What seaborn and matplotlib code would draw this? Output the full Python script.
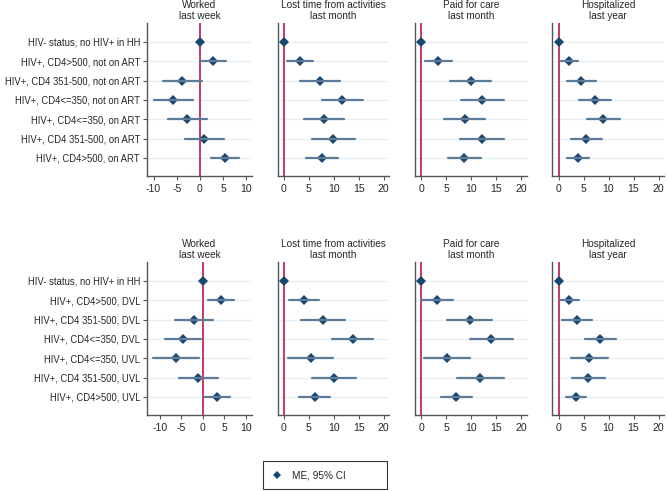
import matplotlib
matplotlib.use("Agg")
import matplotlib.pyplot as plt
from matplotlib.lines import Line2D
import seaborn as sns
import pandas as pd

sns.set_theme(style="white")
plt.rcParams['font.family'] = ['Liberation Sans', 'DejaVu Sans']
plt.rcParams['axes.unicode_minus'] = False

cats_top = ["HIV- status, no HIV+ in HH", "HIV+, CD4>500, not on ART",
            "HIV+, CD4 351-500, not on ART", "HIV+, CD4<=350, not on ART",
            "HIV+, CD4<=350, on ART", "HIV+, CD4 351-500, on ART",
            "HIV+, CD4>500, on ART"]
cats_bot = ["HIV- status, no HIV+ in HH", "HIV+, CD4>500, DVL",
            "HIV+, CD4 351-500, DVL", "HIV+, CD4<=350, DVL",
            "HIV+, CD4<=350, UVL", "HIV+, CD4 351-500, UVL",
            "HIV+, CD4>500, UVL"]
titles = ["Worked\nlast week", "Lost time from activities\nlast month",
          "Paid for care\nlast month", "Hospitalized\nlast year"]

# top row: estimates, lower CI, upper CI per outcome
top_est = [
    [0, 2.9, -3.8, -5.8, -2.7, 0.9, 5.4],
    [0, 3.3, 7.3, 11.7, 8.0, 9.9, 7.7],
    [0, 3.3, 9.9, 12.2, 8.7, 12.1, 8.6],
    [0, 2.1, 4.5, 7.2, 8.8, 5.5, 3.8],
]
top_lo = [
    [0, 0.0, -7.9, -10.0, -6.8, -3.3, 2.4],
    [0, 0.6, 3.3, 7.7, 4.0, 5.6, 4.5],
    [0, 0.7, 5.7, 8.0, 4.6, 7.7, 5.4],
    [0, 0.5, 1.7, 4.1, 5.6, 2.5, 1.7],
]
top_hi = [
    [0, 5.7, 0.4, -1.4, 1.5, 5.1, 8.5],
    [0, 5.9, 11.3, 15.9, 12.1, 14.2, 10.9],
    [0, 6.2, 14.0, 16.5, 12.8, 16.5, 12.0],
    [0, 3.9, 7.4, 10.4, 12.2, 8.6, 6.0],
]
# bottom row
bot_est = [
    [0, 4.2, -2.0, -4.5, -6.2, -1.2, 3.3],
    [0, 4.1, 7.9, 13.8, 5.4, 10.1, 6.2],
    [0, 3.1, 9.7, 14.0, 5.2, 11.8, 7.0],
    [0, 2.1, 3.7, 8.3, 6.0, 5.9, 3.5],
]
bot_lo = [
    [0, 1.2, -6.5, -8.7, -11.5, -5.6, 0.2],
    [0, 1.1, 3.5, 9.7, 0.9, 5.7, 3.1],
    [0, 0.0, 5.2, 9.8, 0.6, 7.2, 3.9],
    [0, 0.2, 0.7, 5.2, 2.4, 2.7, 1.5],
]
bot_hi = [
    [0, 7.3, 2.5, -0.4, -0.9, 3.5, 6.4],
    [0, 7.1, 12.2, 17.9, 9.9, 14.5, 9.3],
    [0, 6.3, 14.1, 18.3, 9.8, 16.5, 10.2],
    [0, 4.1, 6.7, 11.4, 9.8, 9.2, 5.5],
]

W, H = 667, 491
fig = plt.figure(figsize=(W / 100, H / 100), dpi=100)

col_x = [(147, 252), (278, 389), (415, 527), (552, 664)]
row_y = [(23, 176), (262, 415)]
xlims_row = [
    [(-11.4, 11.2), (-1.2, 21.1), (-1.2, 21.1), (-1.3, 21.1)],
    [(-13.0, 11.5), (-1.2, 21.1), (-1.2, 21.1), (-1.3, 21.1)],
]
xticks = [[-10, -5, 0, 5, 10], [0, 5, 10, 15, 20], [0, 5, 10, 15, 20], [0, 5, 10, 15, 20]]

navy = "#1a476f"
ci_col = "#5b7b98"
red = "#c42a52"
grid_col = "#e8f0f3"
spine_col = "#555555"
fs = 7.2

rows = [(cats_top, top_est, top_lo, top_hi), (cats_bot, bot_est, bot_lo, bot_hi)]
for r, (cats, est, lo, hi) in enumerate(rows):
    y0, y1 = row_y[r]
    for c in range(4):
        x0, x1 = col_x[c]
        ax = fig.add_axes([x0 / W, 1 - y1 / H, (x1 - x0) / W, (y1 - y0) / H])
        recs = []
        for i, cat in enumerate(cats):
            for v in (lo[c][i], est[c][i], hi[c][i]):
                recs.append({"cat": cat, "val": v})
        df = pd.DataFrame(recs)
        for i in range(len(cats)):
            ax.axhline(i, color=grid_col, lw=1.0, zorder=0)
        ax.axvline(0, color=red, lw=1.3, zorder=1)
        sns.pointplot(data=df, x="val", y="cat", order=cats, estimator="median",
                      errorbar=("pi", 100), linestyle="none", marker="D",
                      markersize=4.6, markeredgewidth=0, color=navy,
                      err_kws={"color": ci_col, "linewidth": 1.6},
                      ax=ax, zorder=3)
        ax.set_xlim(*xlims_row[r][c])
        ax.set_ylim(6.93, -0.97)
        ax.set_xticks(xticks[c])
        ax.set_xlabel("")
        ax.set_ylabel("")
        ax.set_title(titles[c], fontsize=fs, pad=3, linespacing=1.05)
        for s in ("top", "right"):
            ax.spines[s].set_visible(False)
        for s in ("left", "bottom"):
            ax.spines[s].set_color(spine_col)
            ax.spines[s].set_linewidth(1.0)
        ax.tick_params(axis="x", length=3, width=0.8, color=spine_col,
                       labelsize=7.6, pad=2.5, direction="out", bottom=True)
        if c == 0:
            ax.tick_params(axis="y", length=3, width=0.8, color=spine_col,
                           labelsize=6.85, pad=2, direction="out", left=True)
        else:
            ax.set_yticks(range(len(cats)))
            ax.tick_params(axis="y", left=False, labelleft=False)
        ax.grid(False)

handle = Line2D([], [], linestyle="none", marker="D", markersize=4.5,
                markeredgewidth=0, color=navy)
leg = fig.legend([handle], ["ME, 95% CI"], loc="lower left",
                 bbox_to_anchor=(263 / W, 1 - 489 / H, 124 / W, 27 / H),
                 mode="expand", frameon=True,
                 fancybox=False, fontsize=fs, handlelength=1.0,
                 borderpad=0.9, handletextpad=1.0, borderaxespad=0)
leg.get_frame().set_edgecolor("black")
leg.get_frame().set_linewidth(0.8)

fig.savefig("out.png", dpi=100, facecolor="white")
